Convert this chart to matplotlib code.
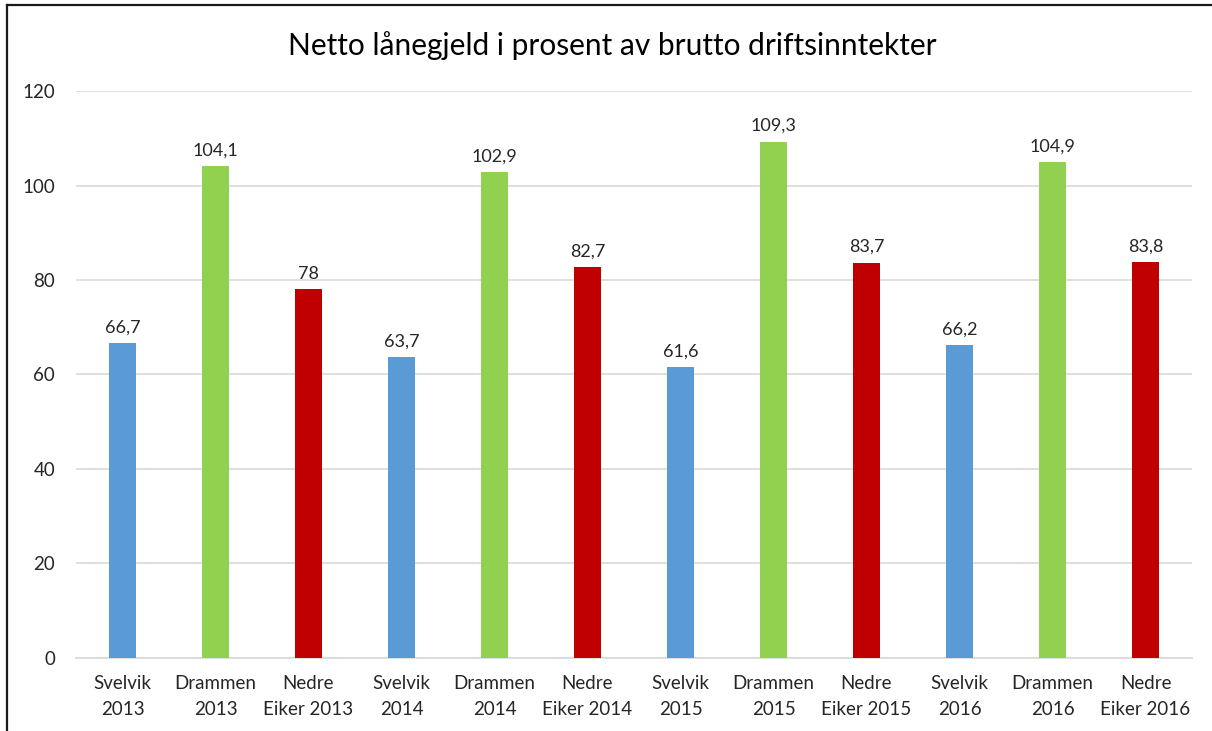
import matplotlib
matplotlib.use('Agg')
import matplotlib.pyplot as plt
from matplotlib.lines import Line2D

labels = ['Svelvik\n2013', 'Drammen\n2013', 'Nedre\nEiker 2013',
          'Svelvik\n2014', 'Drammen\n2014', 'Nedre\nEiker 2014',
          'Svelvik\n2015', 'Drammen\n2015', 'Nedre\nEiker 2015',
          'Svelvik\n2016', 'Drammen\n2016', 'Nedre\nEiker 2016']
values = [66.7, 104.1, 78, 63.7, 102.9, 82.7, 61.6, 109.3, 83.7, 66.2, 104.9, 83.8]
value_text = ['66,7', '104,1', '78', '63,7', '102,9', '82,7',
              '61,6', '109,3', '83,7', '66,2', '104,9', '83,8']
colors = ['#5B9BD5', '#92D050', '#C00000'] * 4
yticks = [0, 20, 40, 60, 80, 100, 120]

plt.rcParams['font.family'] = ['Lato', 'DejaVu Sans']

fig = plt.figure(figsize=(12.12, 7.31), dpi=100)
ax = fig.add_axes([0.0627, 0.0999, 0.9208, 0.7756])

x = list(range(len(values)))
ax.bar(x, values, width=0.3, color=colors, zorder=3)
for xi, v, t in zip(x, values, value_text):
    ax.text(xi, v + 1.6, t, ha='center', va='bottom', fontsize=13, color='#262626')

ax.set_xlim(-0.5, len(values) - 0.5)
ax.set_ylim(0, 120)
ax.set_yticks(yticks)
ax.set_yticklabels([str(t) for t in yticks], fontsize=13.5, color='#262626')
ax.set_xticks(x)
ax.set_xticklabels(labels, fontsize=13.5, color='#262626', linespacing=1.7)
ax.tick_params(axis='y', length=0, pad=15)
ax.tick_params(axis='x', length=0, pad=12)
ax.grid(axis='y', color='#D9D9D9', lw=1.2, zorder=0)
for s in ['top', 'right', 'left']:
    ax.spines[s].set_visible(False)
ax.spines['bottom'].set_color('#D9D9D9')
ax.spines['bottom'].set_linewidth(1.2)

fig.text(0.505, 0.938, 'Netto lånegjeld i prosent av brutto driftsinntekter',
         ha='center', va='center', fontsize=21.5, color='black')

# outer frame (top and left edges only are visible in the reference)
fig.add_artist(Line2D([7 / 1212, 1.0], [1 - 5 / 731, 1 - 5 / 731],
                      transform=fig.transFigure, color='#1a1a1a', lw=1.6))
fig.add_artist(Line2D([7 / 1212, 7 / 1212], [0, 1 - 5 / 731],
                      transform=fig.transFigure, color='#1a1a1a', lw=1.6))

fig.savefig('out.png', dpi=100)
